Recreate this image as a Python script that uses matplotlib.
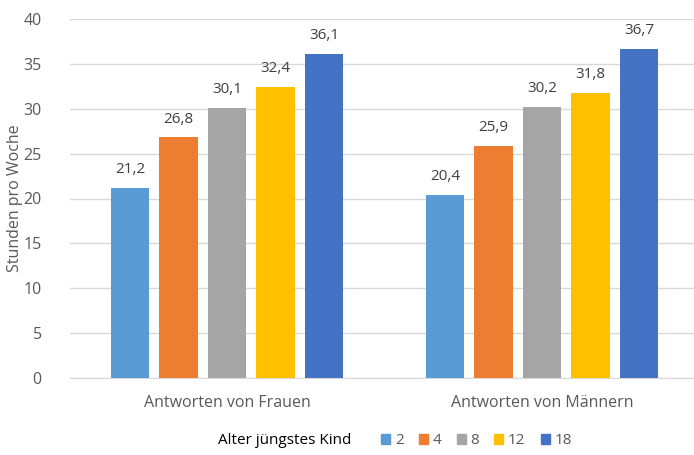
import matplotlib
matplotlib.use("Agg")
import matplotlib.pyplot as plt
from matplotlib.patches import Patch
import numpy as np

plt.rcParams['font.family'] = ['Open Sans', 'DejaVu Sans']

categories = ["Antworten von Frauen", "Antworten von Männern"]
series_names = ["2", "4", "8", "12", "18"]
values = {
    "2": [21.2, 20.4],
    "4": [26.8, 25.9],
    "8": [30.1, 30.2],
    "12": [32.4, 31.8],
    "18": [36.1, 36.7],
}
colors = ["#5B9BD5", "#ED7D31", "#A5A5A5", "#FFC000", "#4472C4"]
legend_title = "Alter jüngstes Kind"
ylabel = "Stunden pro Woche"
yticks = [0, 5, 10, 15, 20, 25, 30, 35, 40]

W, H = 694, 455
fig = plt.figure(figsize=(W / 100, H / 100), dpi=100)
ax = fig.add_axes([69.5 / W, 1 - 378 / H, 630 / W, (378 - 19) / H])

text_col = "#595959"
x = np.arange(len(categories))
step = 0.154
bw = 0.121
for i, name in enumerate(series_names):
    pos = x + (i - 2) * step
    bars = ax.bar(pos, values[name], width=bw, color=colors[i], zorder=3)
    for b, v in zip(bars, values[name]):
        ax.text(b.get_x() + b.get_width() / 2, v + 1.2, f"{v:.1f}".replace(".", ","),
                ha="center", va="bottom", fontsize=11, color="#404040")

ax.set_xlim(-0.5, 1.5)
ax.set_ylim(0, 40)
ax.set_yticks(yticks)
ax.set_xticks(x)
ax.set_xticklabels(categories)
ax.grid(axis="y", color="#D9D9D9", linewidth=1, zorder=0)
for s in ["top", "right", "left"]:
    ax.spines[s].set_visible(False)
ax.spines["bottom"].set_color("#D9D9D9")
ax.tick_params(axis="both", length=0, labelsize=11.5, colors=text_col)
ax.tick_params(axis="y", pad=20)
ax.tick_params(axis="x", pad=12)
ax.set_ylabel(ylabel, fontsize=11.5, color=text_col)
ax.yaxis.set_label_coords((23 - 69.5) / 630, 0.5)

fig.text(218 / W, 1 - 441 / H, legend_title, fontsize=11, color="black", va="center", ha="left")
handles = [Patch(color=c, label=n) for c, n in zip(colors, series_names)]
fig.legend(handles=handles, loc="center left", bbox_to_anchor=(381 / W, 1 - 441 / H),
           ncol=5, frameon=False, handlelength=0.6, handleheight=0.6, handletextpad=0.3,
           columnspacing=1.0, fontsize=11, labelcolor=text_col, borderaxespad=0, borderpad=0)

fig.savefig("out.png", dpi=100)
